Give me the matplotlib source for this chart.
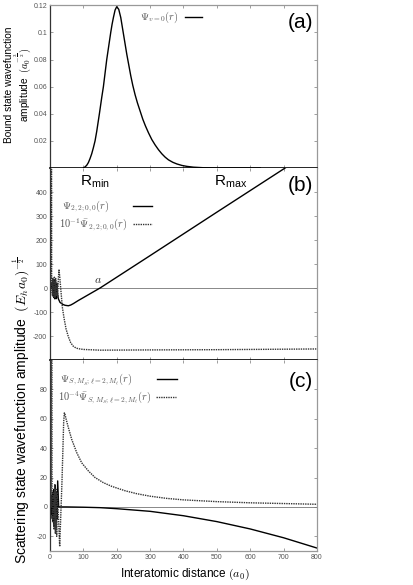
import matplotlib
matplotlib.use("Agg")
import matplotlib.pyplot as plt

plt.rcParams['font.family'] = ['Liberation Sans', 'DejaVu Sans']
plt.rcParams['mathtext.fontset'] = 'cm'
plt.rcParams['axes.unicode_minus'] = False

# ---------------- data ----------------
# (a) bound state wavefunction
r_bound = [100, 105, 110, 115, 120, 125, 130, 135, 140, 148, 155, 160, 165, 170, 176, 182,
           186, 190, 195, 200, 206, 212, 218, 224, 230, 236, 242, 248, 255, 262, 270, 278,
           286, 295, 305, 315, 325, 335, 345, 355, 368, 380, 395, 410, 430, 460, 500, 630]
psi_bound = [0.0, 0.0008, 0.002, 0.004, 0.007, 0.0105, 0.015, 0.02, 0.027, 0.04, 0.052,
             0.06, 0.07, 0.08, 0.09, 0.1, 0.106, 0.111, 0.1165, 0.119, 0.117, 0.111, 0.102,
             0.093, 0.084, 0.076, 0.068, 0.061, 0.054, 0.048, 0.042, 0.036, 0.031, 0.026,
             0.021, 0.017, 0.0135, 0.0105, 0.008, 0.006, 0.0042, 0.003, 0.0019, 0.0012,
             0.0006, 0.0002, 0.0, 0.0]

# (b) scattering state l=0
r_b_solid = [3, 5, 7, 8, 9, 10, 11, 12, 13, 14, 16, 18, 20, 22, 25, 30, 38, 45, 55, 62, 70,
             85, 100, 120, 150, 300, 500, 800]
psi_b_solid = [0, 0, 25, -20, 30, -35, 35, -40, 30, -45, 35, -45, 20, -20, -45, -60, -68,
               -72, -74, -71, -65, -52, -40, -24, 0, 135, 316, 586]
r_b_dot = [2.5, 3.5, 5, 7, 9, 11, 13, 15, 17, 19, 21, 23, 25, 27, 29, 32, 37, 42, 48, 55,
           62, 70, 78, 85, 100, 150, 300, 500, 800]
psi_b_dot = [0, 3000, 0, -30, 40, -40, 45, -40, 40, -35, 20, -40, 40, 75, 50, 0, -80, -125,
             -170, -203, -228, -243, -250, -253, -256, -259, -258, -257, -254]

# (c) scattering state l=2
r_c_solid = [3, 5, 6, 7, 8, 9, 10, 11, 12, 13, 15, 17, 19, 21, 23, 26, 50, 100, 150, 200,
             300, 400, 500, 600, 700, 800]
psi_c_solid = [0, -5, 8, -8, 10, -10, 10, -12, 12, -13, 15, -13, 10, -8, 17.7, 0, 0, -0.2,
               -0.5, -1.2, -3, -6, -10, -15, -21, -28]
r_c_dot = [3, 4.5, 6, 8, 10, 12, 14, 16, 18, 20, 22, 25, 29, 36, 41, 43, 45, 48, 55, 65,
           80, 95, 115, 135, 160, 185, 225, 260, 300, 350, 400, 500, 600, 700, 800]
psi_c_dot = [0, 1000, 0, -10, 10, -15, 15, -18, 12, -20, 10, -5, -27, 18, 58, 64, 63, 60,
             54, 46, 37, 30, 24.5, 20, 16.5, 14, 11, 9, 7.3, 5.8, 4.8, 3.6, 2.8, 2.3, 1.8]

xticks = [0, 100, 200, 300, 400, 500, 600, 700, 800]
yticks_a = [0.02, 0.04, 0.06, 0.08, 0.1, 0.12]
yticklabels_a = ['0.02', '0.04', '0.06', '0.08', '0.1', '0.12']
yticks_b = [-200, -100, 0, 100, 200, 300, 400]
yticks_c = [-20, 0, 20, 40, 60, 80]

label_a = r'$\Psi_{v=0}(r)$'
labels_b = [r'$\Psi_{2,2;0,0}(r)$', r'$10^{-1}\bar{\Psi}_{2,2;0,0}(r)$']
labels_c = [r'$\Psi_{S,M_S;\ell=2,M_\ell}(r)$', r'$10^{-4}\bar{\Psi}_{S,M_S;\ell=2,M_\ell}(r)$']

# ---------------- figure ----------------
W, H = 414, 585
fig = plt.figure(figsize=(W / 100, H / 100), dpi=100)

def frac(x0, top, x1, bottom):
    return [x0 / W, 1 - bottom / H, (x1 - x0) / W, (bottom - top) / H]

ax_a = fig.add_axes(frac(50, 5.3, 317, 168))
ax_b = fig.add_axes(frac(50, 168, 317, 360))
ax_c = fig.add_axes(frac(50, 360, 317, 551))

dot_style = dict(color='#333333', lw=1.0, linestyle=(0, (1, 0.7)))
solid_style = dict(color='black', lw=1.0)
legend_color = '#555555'
LEG_FS = 7.5

for ax in (ax_a, ax_b, ax_c):
    ax.set_xlim(0, 800)
    ax.set_xticks(xticks)
    ax.tick_params(direction='in', length=2.5, width=0.5, colors='#777777',
                   labelsize=5, labelcolor='#555555', top=True, right=True, pad=2)
    for s in ('top', 'right'):
        ax.spines[s].set_color('#999999')
    for s in ('left', 'bottom'):
        ax.spines[s].set_color('#333333')
    for s in ax.spines.values():
        s.set_linewidth(0.9)

ax_a.tick_params(labelbottom=False)
ax_b.tick_params(labelbottom=False)
ax_a.spines['bottom'].set_color('black')
ax_a.spines['bottom'].set_linewidth(1.2)
ax_b.spines['bottom'].set_color('black')
ax_b.spines['bottom'].set_linewidth(1.2)
ax_b.spines['top'].set_visible(False)
ax_c.spines['top'].set_visible(False)
ax_c.spines['bottom'].set_color('#999999')


def legend_entry(ax, top, bottom, text_x, y, line_x0, line_x1, label, style):
    """Manual legend entry: text left-aligned, sample line to the right (pixel coords)."""
    h = bottom - top
    fx = lambda px: (px - 50) / 267
    fy = (bottom - y) / h
    ax.text(fx(text_x), fy, label, transform=ax.transAxes, ha='left', va='center',
            fontsize=LEG_FS, color=legend_color)
    ax.plot([fx(line_x0), fx(line_x1)], [fy, fy], transform=ax.transAxes,
            clip_on=False, **style)


# (a)
ax_a.plot(r_bound, psi_bound, **solid_style)
ax_a.set_ylim(0, 0.12)
ax_a.set_yticks(yticks_a)
ax_a.set_yticklabels(yticklabels_a)
legend_entry(ax_a, 5.3, 168, 140, 17, 185, 202, label_a, solid_style)
ax_a.text(0.985, 0.897, '(a)', transform=ax_a.transAxes, ha='right', va='center',
          fontsize=15)

# (b)
ax_b.axhline(0, color='#888888', lw=0.7, zorder=1)
ax_b.plot(r_b_solid, psi_b_solid, **solid_style)
ax_b.plot(r_b_dot, psi_b_dot, **dot_style)
ax_b.set_ylim(-300, 500)
ax_b.set_yticks(yticks_b)
legend_entry(ax_b, 168, 360, 62, 206, 133, 152, labels_b[0], solid_style)
legend_entry(ax_b, 168, 360, 59, 224, 133, 152, labels_b[1], dot_style)
ax_b.text(0.985, 0.911, '(b)', transform=ax_b.transAxes, ha='right', va='center',
          fontsize=15)
ax_b.text(90, 441, r'R$_{\mathregular{min}}$', fontsize=11, ha='left', va='center')
ax_b.text(490, 441, r'R$_{\mathregular{max}}$', fontsize=11, ha='left', va='center')
ax_b.text(143, 8, r'$a$', fontsize=8.5, color='#333333', ha='center', va='bottom')

# (c)
ax_c.axhline(0, color='#888888', lw=0.7, zorder=1)
ax_c.plot(r_c_solid, psi_c_solid, **solid_style)
ax_c.plot(r_c_dot, psi_c_dot, **dot_style)
ax_c.set_ylim(-30, 100)
ax_c.set_yticks(yticks_c)
legend_entry(ax_c, 360, 551, 60, 379, 157, 177, labels_c[0], solid_style)
legend_entry(ax_c, 360, 551, 58, 397, 156, 176, labels_c[1], dot_style)
ax_c.text(0.985, 0.89, '(c)', transform=ax_c.transAxes, ha='right', va='center',
          fontsize=15)

# axis labels
fig.text(185 / W, 1 - 574 / H, r'Interatomic distance $(a_0)$', ha='center',
         va='center', fontsize=8.5)
fig.text(9 / W, 1 - 85 / H, 'Bound state wavefunction', rotation=90, ha='center',
         va='center', fontsize=7.3)
fig.text(23 / W, 1 - 85 / H, r'amplitude  $(a_0^{-\frac{3}{2}})$', rotation=90,
         ha='center', va='center', fontsize=7.3)
fig.text(21 / W, 1 - 410 / H,
         r'Scattering state wavefunction amplitude  $(E_h a_0)^{-\frac{1}{2}}$',
         rotation=90, ha='center', va='center', fontsize=10)

fig.savefig('out.png', dpi=100)
